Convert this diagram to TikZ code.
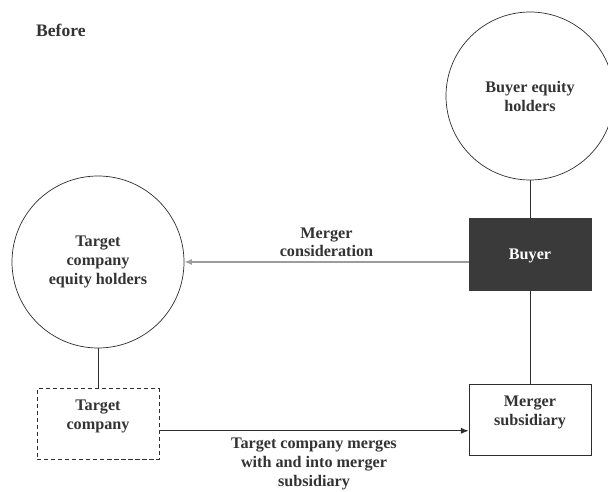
\documentclass[tikz,border=0pt]{standalone}
\usepackage{fontspec}
\setmainfont{Liberation Serif}
\usetikzlibrary{arrows.meta}
\definecolor{dunkel}{HTML}{3A3A3A}
\definecolor{linie}{HTML}{2E2E2E}
\definecolor{hlinie}{HTML}{9C9C9C}
\definecolor{schrift}{HTML}{333333}
\tikzset{
  kreis/.style={circle,draw=linie,line width=0.5pt,align=center,font=\fontsize{11.5}{13.5}\selectfont\bfseries,text=schrift},
  kasten/.style={rectangle,draw=linie,line width=0.6pt,minimum width=3.05cm,minimum height=1.78cm,align=center,font=\fontsize{11.5}{13.5}\selectfont\bfseries,text=schrift,text depth=0.45cm},
  gestr/.style={dash pattern=on 3pt off 2pt},
  verb/.style={linie,line width=0.6pt},
  pfeil/.style={-{Latex[length=1.9mm,width=1.5mm]},linie,line width=0.6pt},
  hpfeil/.style={-{Latex[length=1.9mm,width=1.5mm]},hlinie,line width=0.9pt},
  beschr/.style={align=center,font=\fontsize{11.5}{13.5}\selectfont\bfseries,text=schrift},
}
\begin{document}
\begin{tikzpicture}
  \useasboundingbox (0,0) rectangle (15.2,-12.3);
  \node[anchor=west,font=\fontsize{12.5}{14}\selectfont\bfseries,text=schrift] (vorher) at (0.78,-0.75) {Before};
  % Käufer
  \node[kreis,minimum size=4.2cm] (bceh) at (13.25,-2.4) {Buyer equity\\holders};
  \node[kasten,fill=dunkel,draw=dunkel,text=white,text depth=0pt] (buyer) at (13.25,-6.36) {Buyer};
  \node[kasten] (msub) at (13.25,-10.49) {Merger\\subsidiary};
  % Zielgesellschaft
  \node[kreis,minimum size=4.3cm] (tceh) at (2.45,-6.55) {Target\\company\\equity holders};
  \node[kasten,gestr] (tco) at (2.45,-10.6) {Target\\company};
  \draw[verb] (bceh) -- (buyer);
  \draw[verb] (buyer) -- (msub);
  \draw[verb] (tceh) -- (tco);
  \draw[hpfeil] (tceh.east -| buyer.west) -- node[beschr,above,inner sep=3pt] {Merger\\consideration} (tceh.east);
  \draw[pfeil] ([yshift=-0.17cm]tco.east) -- node[beschr,below,inner sep=5pt] {Target company merges\\with and into merger\\subsidiary} ([yshift=-0.17cm]tco.east -| msub.west);
\end{tikzpicture}
\end{document}
